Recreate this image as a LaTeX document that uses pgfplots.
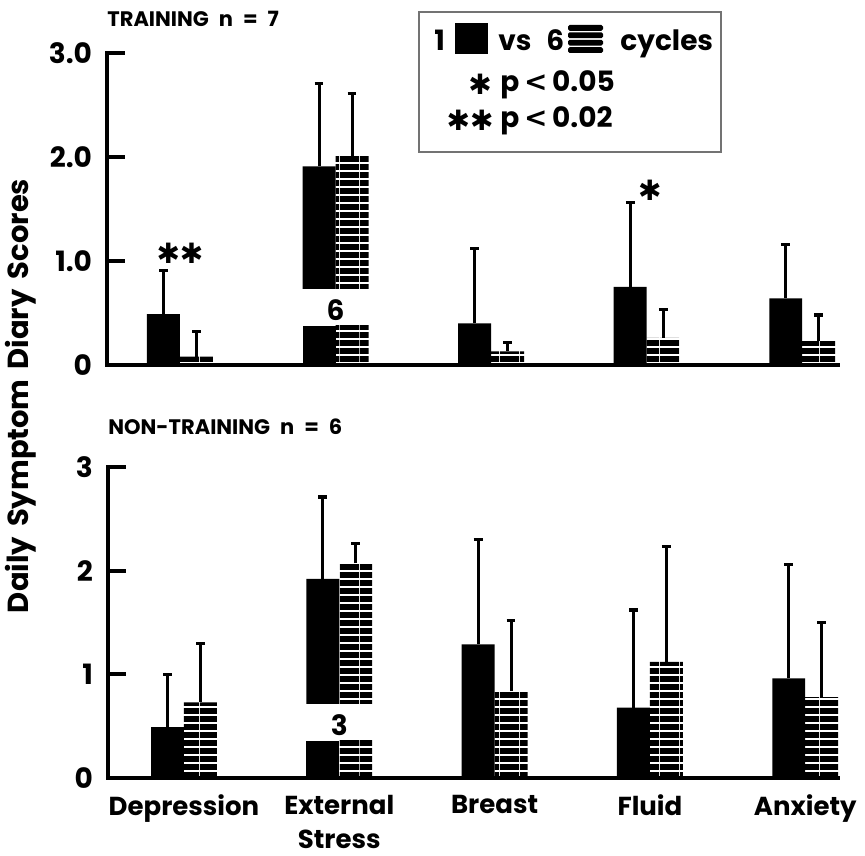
\documentclass[border=0pt]{standalone}
\usepackage{fontspec}
\setmainfont{Poppins}
\newfontfamily\djv{DejaVu Sans}
\usepackage{pgfplots}
\usepackage{pgfplotstable}
\pgfplotsset{compat=1.18}
\usetikzlibrary{patterns}

\pgfdeclarepatternformonly{hstripes}{\pgfqpoint{0pt}{0pt}}{\pgfqpoint{10pt}{3.85pt}}{\pgfqpoint{10pt}{3.85pt}}{%
  \pgfpathrectangle{\pgfqpoint{0pt}{0pt}}{\pgfqpoint{10pt}{3.0pt}}\pgfusepath{fill}}

% x: category index, b: 1 cycle, be: error (plus), h: 6 cycles, he: error (plus)
\pgfplotstableread{
x b be h he
0 0.49 0.42 0.08 0.24
1 1.91 0.80 2.01 0.60
2 0.40 0.72 0.13 0.09
3 0.75 0.81 0.26 0.27
4 0.64 0.52 0.23 0.25
}\toptab
\pgfplotstableread{
x b be h he
0 0.49 0.51 0.73 0.57
1 1.92 0.79 2.07 0.19
2 1.29 1.01 0.84 0.68
3 0.68 0.94 1.12 1.11
4 0.96 1.10 0.78 0.72
}\bottab

\pgfplotsset{
  blk/.style={ybar, bar width=0.212, bar shift=0, fill=black, draw=none},
  hat/.style={ybar, bar width=0.212, bar shift=0, draw=none, pattern=hstripes, pattern color=black},
  eb/.style={error bars/y dir=plus, error bars/y explicit,
     error bars/error bar style={draw=black, line width=1.5pt},
     error bars/error mark=|,
     error bars/error mark options={draw=black, line width=1.6pt, mark size=2.2pt}},
  gap/.style={ybar, bar width=0.44, bar shift=0, fill=white, draw=none},
  myaxis/.style={scale only axis, axis lines=left,
     axis line style={-, line width=2pt, line cap=rect, black},
     ymin=0, ymax=3, ytick={0,1,2,3}, tick align=inside, major tick length=9pt,
     ytick style={line width=2pt, black}, xtick style={draw=none},
     axis on top, clip=false,
     yticklabel style={font=\bfseries\fontsize{14}{16}\selectfont, xshift=-4pt},
     /pgf/number format/assume math mode=true},
}
\newcommand{\lt}{{\djv\bfseries <}}

\begin{document}
\begin{tikzpicture}
\useasboundingbox (0,0) rectangle (432.5pt,427.5pt);

% ---------- top panel ----------
\begin{axis}[myaxis, at={(53.5pt,245pt)}, anchor=south west,
  width=365.5pt, height=156pt, xmin=-0.469, xmax=4.23,
  yticklabels={0,1.0,2.0,3.0}, xtick=\empty]
\addplot[blk, eb] table[x expr=\thisrow{x}-0.106, y=b, y error=be] {\toptab};
\addplot[hat, eb] table[x expr=\thisrow{x}+0.106, y=h, y error=he] {\toptab};
\addplot[gap] coordinates {(1,0.73)};
\addplot[blk] coordinates {(0.894,0.375)};
\addplot[hat] coordinates {(1.106,0.375)};
\node[font=\bfseries\fontsize{14}{14}\selectfont] at (axis cs:1,0.53) {6};
\node[font=\djv\fontsize{14}{14}\selectfont] at (axis cs:0,1.07) {✱✱};
\node[font=\djv\fontsize{14}{14}\selectfont] at (axis cs:3.02,1.68) {✱};
\end{axis}

% ---------- bottom panel ----------
\begin{axis}[myaxis, at={(54pt,38.5pt)}, anchor=south west,
  width=365pt, height=155.5pt, xmin=-0.489, xmax=4.211,
  yticklabels={0,1,2,3},
  xtick={0,1,2,3,4},
  xticklabels={Depression,{External\\Stress},Breast,Fluid,Anxiety},
  xticklabel style={align=center, anchor=north, yshift=-5pt,
     font=\bfseries\fontsize{13}{17}\selectfont}]
\addplot[blk, eb] table[x expr=\thisrow{x}-0.106, y=b, y error=be] {\bottab};
\addplot[hat, eb] table[x expr=\thisrow{x}+0.106, y=h, y error=he] {\bottab};
\addplot[gap] coordinates {(1,0.71)};
\addplot[blk] coordinates {(0.894,0.36)};
\addplot[hat] coordinates {(1.106,0.36)};
\node[font=\bfseries\fontsize{14}{14}\selectfont] at (axis cs:1,0.51) {3};
\end{axis}

% ---------- titles ----------
\node[anchor=base west, inner sep=0, font=\bfseries\fontsize{10.5}{12}\selectfont]
  at (53.5pt,414pt) {TRAINING\hspace{5pt}n\hspace{5pt}=\hspace{5pt}7};
\node[anchor=base west, inner sep=0, font=\bfseries\fontsize{10.5}{12}\selectfont]
  at (54pt,210pt) {NON-TRAINING\hspace{5pt}n\hspace{5pt}=\hspace{5pt}6};
\node[rotate=90, inner sep=0, font=\fontsize{14.5}{16}\selectfont]
  at (10.5pt,229.5pt) {\textbf{Daily\hspace{5pt}Symptom\hspace{5pt}Diary\hspace{5pt}Scores}};

% ---------- legend ----------
\draw[black!55, line width=0.6pt] (209.5pt,351.5pt) rectangle (360.5pt,421.5pt);
\node[anchor=base west, inner sep=0, font=\bfseries\fontsize{14}{16}\selectfont] at (217pt,402pt) {1};
\fill[black] (227.5pt,400.5pt) rectangle (244pt,416pt);
\node[anchor=base west, inner sep=0, font=\bfseries\fontsize{14}{16}\selectfont] at (249pt,402pt) {vs};
\node[anchor=base west, inner sep=0, font=\bfseries\fontsize{14}{16}\selectfont] at (273pt,402pt) {6};
\foreach \yy in {401,404.7,408.4,412.1}
  \fill[black, rounded corners=0.8pt] (284pt,\yy pt) rectangle (301.5pt,\yy pt+2.9pt);
\node[anchor=base west, inner sep=0, font=\bfseries\fontsize{14}{16}\selectfont] at (310pt,402pt) {cycles};
\node[font=\djv\fontsize{14}{14}\selectfont, inner sep=0] at (240pt,385.5pt) {✱};
\node[anchor=base west, inner sep=0, font=\bfseries\fontsize{14}{16}\selectfont] at (250pt,381.5pt) {p\,\lt\,0.05};
\node[font=\djv\fontsize{14}{14}\selectfont, inner sep=0] at (235pt,367.5pt) {✱✱};
\node[anchor=base west, inner sep=0, font=\bfseries\fontsize{14}{16}\selectfont] at (250pt,363.5pt) {p\,\lt\,0.02};
\end{tikzpicture}
\end{document}
